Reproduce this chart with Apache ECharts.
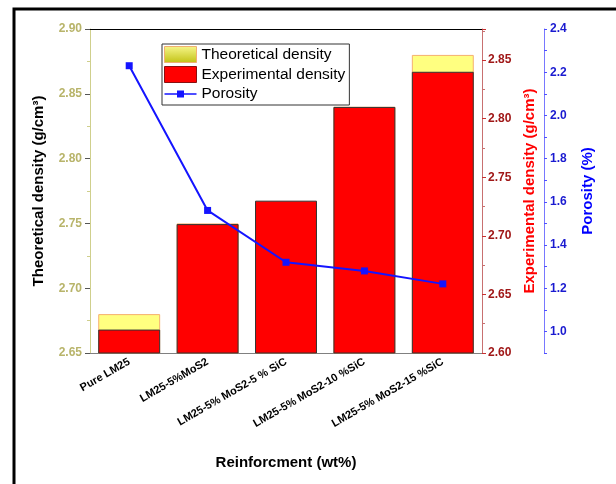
<!DOCTYPE html>
<html><head><meta charset="utf-8">
<script src="https://cdn.jsdelivr.net/npm/echarts@6/dist/echarts.min.js"></script>
<style>html,body{margin:0;padding:0;background:#fff}#c{width:616px;height:484px}</style>
</head><body><div id="c"></div>
<script>
var categories = ['Pure LM25', 'LM25-5%MoS2', 'LM25-5% MoS2-5 % SiC', 'LM25-5% MoS2-10 %SiC', 'LM25-5% MoS2-15 %SiC'];
var theoretical = [2.68, 2.75, 2.765, 2.84, 2.88];
var experimental = [2.62, 2.71, 2.73, 2.81, 2.84];
var porosity = [2.23, 1.56, 1.32, 1.28, 1.22];

var FONT = 'Liberation Sans, Arial, sans-serif';
var lineIcon = 'path://M0,0h0.01v0.01h-0.01z M31.99,15.99h0.01v0.01h-0.01z M0,7.2h32v1.6h-32z M12.5,4.5h7v7h-7z';
var chart = echarts.init(document.getElementById('c'), null, {renderer: 'canvas'});
chart.setOption({
  backgroundColor: '#fff',
  animation: false,
  textStyle: {fontFamily: FONT},
  graphic: [{
    type: 'polyline', silent: true,
    shape: {points: [[14, 484], [14, 9], [616, 9]]},
    style: {stroke: '#000', lineWidth: 3, fill: null}
  }],
  grid: {left: 90, right: 134, top: 29, bottom: 131, show: false},
  legend: {
    orient: 'vertical', left: 162, top: 44,
    itemWidth: 32, itemHeight: 16, itemGap: 3,
    padding: [2, 4, 3, 2],
    borderColor: '#333', borderWidth: 1, backgroundColor: '#fff',
    textStyle: {fontFamily: FONT, fontSize: 15.5, color: '#000'},
    data: [
      {name: 'Theoretical density', icon: 'rect', itemStyle: {color: {type: 'linear', x: 0, y: 0, x2: 0, y2: 1, colorStops: [{offset: 0, color: '#f6f68a'}, {offset: 1, color: '#c2c214'}]}, borderColor: '#f0b070', borderWidth: 1}},
      {name: 'Experimental density', icon: 'rect', itemStyle: {color: '#ff0000', borderColor: '#8a1010', borderWidth: 1}},
      {name: 'Porosity', icon: lineIcon, itemStyle: {color: '#1414ff', borderWidth: 0}}
    ]
  },
  xAxis: [{
    type: 'category', data: categories, position: 'bottom',
    axisLine: {lineStyle: {color: '#808080', width: 1}},
    axisTick: {alignWithLabel: true, length: 5, lineStyle: {color: '#555'}},
    axisLabel: {rotate: 30, margin: 8, fontSize: 11, fontWeight: 'bold', color: '#000', fontFamily: FONT, interval: 0},
    name: 'Reinforcment (wt%)', nameLocation: 'middle', nameGap: 102,
    nameTextStyle: {fontSize: 15, fontWeight: 'bold', color: '#000', fontFamily: FONT}
  }, {
    type: 'category', data: categories, position: 'bottom',
    axisLine: {show: false},
    axisTick: {alignWithLabel: false, length: 3, lineStyle: {color: '#555'}},
    axisLabel: {show: false}
  }, {
    type: 'category', data: categories, position: 'top',
    axisLine: {lineStyle: {color: '#000', width: 1}},
    axisTick: {show: false}, axisLabel: {show: false}
  }],
  yAxis: [{
    type: 'value', position: 'left', min: 2.65, max: 2.90, interval: 0.05,
    axisLine: {show: true, lineStyle: {color: '#cfcf8c', width: 1}},
    axisTick: {show: true, length: 5, lineStyle: {color: '#555'}},
    minorTick: {show: true, splitNumber: 2, length: 3, lineStyle: {color: '#cfcf8c'}},
    splitLine: {show: false},
    axisLabel: {fontSize: 12, fontWeight: 'bold', color: '#b8b46a', margin: 8, fontFamily: FONT,
      formatter: function (v) { return v.toFixed(2); }},
    name: 'Theoretical density (g/cm³)', nameLocation: 'middle', nameGap: 44,
    nameTextStyle: {fontSize: 15, fontWeight: 'bold', color: '#000', fontFamily: FONT}
  }, {
    type: 'value', position: 'right', min: 2.60, max: 2.8765, interval: 0.05,
    axisLine: {show: true, lineStyle: {color: '#c87070', width: 1}},
    axisTick: {show: true, length: 4, lineStyle: {color: '#c83030'}},
    minorTick: {show: true, splitNumber: 2, length: 3, lineStyle: {color: '#c87070'}},
    splitLine: {show: false},
    axisLabel: {fontSize: 12, fontWeight: 'bold', color: '#a01818', margin: 6, showMaxLabel: false, fontFamily: FONT,
      formatter: function (v) { return v.toFixed(2); }},
    name: 'Experimental density (g/cm³)', nameLocation: 'middle', nameGap: 36,
    nameTextStyle: {fontSize: 15, fontWeight: 'bold', color: '#ff0000', fontFamily: FONT}
  }, {
    type: 'value', position: 'right', offset: 62, min: 0.9, max: 2.4, interval: 0.1,
    axisLine: {show: true, lineStyle: {color: '#7878ff', width: 1}},
    axisTick: {show: true, length: 3, lineStyle: {color: '#5050ff'}},
    splitLine: {show: false},
    axisLabel: {fontSize: 12, fontWeight: 'bold', color: '#1a1ad0', margin: 6, fontFamily: FONT,
      formatter: function (v) { var t = Math.round(v * 10); return t % 2 === 0 ? (t / 10).toFixed(1) : ''; }},
    name: 'Porosity (%)', nameLocation: 'middle', nameGap: 36,
    nameTextStyle: {fontSize: 15, fontWeight: 'bold', color: '#0000ff', fontFamily: FONT}
  }],
  series: [{
    name: 'Theoretical density', type: 'bar', xAxisIndex: 0, yAxisIndex: 0,
    data: theoretical, barCategoryGap: '21%', barGap: '-100%',
    itemStyle: {color: '#ffff80', borderColor: '#f5b070', borderWidth: 1}
  }, {
    name: 'Experimental density', type: 'bar', xAxisIndex: 0, yAxisIndex: 1,
    data: experimental, barCategoryGap: '21%', barGap: '-100%',
    itemStyle: {color: '#ff0000', borderColor: '#333', borderWidth: 1}
  }, {
    name: 'Porosity', type: 'line', xAxisIndex: 0, yAxisIndex: 2,
    data: porosity, symbol: 'rect', symbolSize: 7, z: 5,
    lineStyle: {color: '#1414ff', width: 2},
    itemStyle: {color: '#1414ff'}
  }]
});
</script>
</body></html>
